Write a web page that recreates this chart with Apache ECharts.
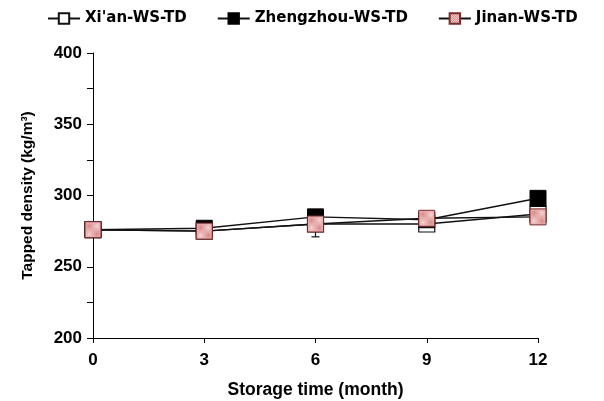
<!DOCTYPE html>
<html>
<head>
<meta charset="utf-8">
<script src="https://cdn.jsdelivr.net/npm/echarts@6/dist/echarts.min.js"></script>
<style>
  html, body { margin: 0; padding: 0; background: #fff; }
  #chart { width: 604px; height: 401px; }
</style>
</head>
<body>
<div id="chart"></div>
<script>
// storage time (month)
var months = [0, 3, 6, 9, 12];
// tapped density (kg/m3)
var xianVals = [276, 275, 280, 280, 287];
var zhengzhouVals = [276, 277, 285, 283, 298];
var jinanVals = [276, 275, 280, 284, 285];
// Xi'an error (only visible one at 6 months)
var xianErr = [0, 0, 9, 0, 0];
var seriesNames = ["Xi'an-WS-TD", 'Zhengzhou-WS-TD', 'Jinan-WS-TD'];

var FONT = 'Liberation Sans, Arial, sans-serif';

// checkered pink fill for Jinan
var makePattern = function () {
    var c = document.createElement('canvas'), g, i, j;
    c.width = 4; c.height = 4;
    g = c.getContext('2d');
    g.fillStyle = '#f6d4d4';
    g.fillRect(0, 0, 4, 4);
    g.fillStyle = '#d98888';
    for (i = 0; i < 4; i++) {
        for (j = 0; j < 4; j++) {
            if ((i + j) % 2 === 0) g.fillRect(i, j, 1, 1);
        }
    }
    return {image: c, repeat: 'repeat'};
};

var pairs = function (ys) {
    var out = [], i;
    for (i = 0; i < months.length; i++) out.push([months[i], ys[i]]);
    return out;
};

var errData = [];
for (var k = 0; k < months.length; k++) {
    if (xianErr[k]) errData.push([months[k], xianVals[k] - xianErr[k], xianVals[k] + xianErr[k]]);
}

var myChart = echarts.init(document.getElementById('chart'), null, {renderer: 'canvas'});

var lineStyle = {color: '#111', width: 1.5};

var option = {
    animation: false,
    backgroundColor: '#fff',
    textStyle: {fontFamily: FONT},
    legend: {
        top: 6,
        left: 42,
        itemGap: 30,
        itemWidth: 32,
        itemHeight: 13,
        textStyle: {fontFamily: 'DejaVu Sans, sans-serif', fontWeight: 'bold', fontSize: 15, color: '#000'},
        data: seriesNames
    },
    grid: {left: 93, right: 66, top: 53, bottom: 63, outerBoundsMode: 'none'},
    xAxis: {
        type: 'value',
        min: 0, max: 12, interval: 3,
        name: 'Storage time (month)',
        nameLocation: 'middle',
        nameGap: 43,
        nameTextStyle: {fontFamily: FONT, fontWeight: 'bold', fontSize: 17.5, color: '#000'},
        axisLine: {lineStyle: {color: '#000', width: 1}},
        axisTick: {length: 5, lineStyle: {color: '#000'}},
        axisLabel: {fontFamily: FONT, fontWeight: 'bold', fontSize: 17, color: '#000', margin: 14},
        splitLine: {show: false}
    },
    yAxis: {
        type: 'value',
        min: 200, max: 400, interval: 50,
        name: 'Tapped density (kg/m³)',
        nameLocation: 'middle',
        nameGap: 57,
        nameTextStyle: {fontFamily: FONT, fontWeight: 'bold', fontSize: 15.5, color: '#000'},
        axisLine: {show: true, lineStyle: {color: '#000', width: 1}},
        axisTick: {show: true, length: 6, lineStyle: {color: '#000'}},
        minorTick: {show: true, splitNumber: 2, length: 6, lineStyle: {color: '#000'}},
        axisLabel: {fontFamily: FONT, fontWeight: 'bold', fontSize: 17, color: '#000', margin: 11},
        splitLine: {show: false}
    },
    series: [
        {
            name: "Xi'an error",
            type: 'custom',
            z: 1,
            silent: true,
            data: errData,
            renderItem: function (params, api) {
                var x = api.coord([api.value(0), api.value(1)])[0],
                    lo = api.coord([api.value(0), api.value(1)])[1],
                    hi = api.coord([api.value(0), api.value(2)])[1],
                    s = {stroke: '#111', lineWidth: 1.2};
                return {
                    type: 'group',
                    children: [
                        {type: 'line', shape: {x1: x, y1: lo, x2: x, y2: hi}, style: s},
                        {type: 'line', shape: {x1: x - 4, y1: lo, x2: x + 4, y2: lo}, style: s},
                        {type: 'line', shape: {x1: x - 4, y1: hi, x2: x + 4, y2: hi}, style: s}
                    ]
                };
            }
        },
        {
            name: "Xi'an-WS-TD",
            type: 'line',
            z: 2,
            data: pairs(xianVals),
            symbol: 'rect',
            symbolSize: 16,
            showAllSymbol: true,
            lineStyle: lineStyle,
            itemStyle: {color: '#fff', borderColor: '#111', borderWidth: 1.2}
        },
        {
            name: 'Zhengzhou-WS-TD',
            type: 'line',
            z: 3,
            data: pairs(zhengzhouVals),
            symbol: 'rect',
            symbolSize: 16,
            lineStyle: lineStyle,
            itemStyle: {color: '#000', borderColor: '#000', borderWidth: 1}
        },
        {
            name: 'Jinan-WS-TD',
            type: 'line',
            z: 4,
            data: pairs(jinanVals),
            symbol: 'rect',
            symbolSize: 16,
            lineStyle: lineStyle,
            itemStyle: {color: makePattern(), borderColor: '#7a2a2a', borderWidth: 1}
        }
    ]
};

myChart.setOption(option);
</script>
</body>
</html>
